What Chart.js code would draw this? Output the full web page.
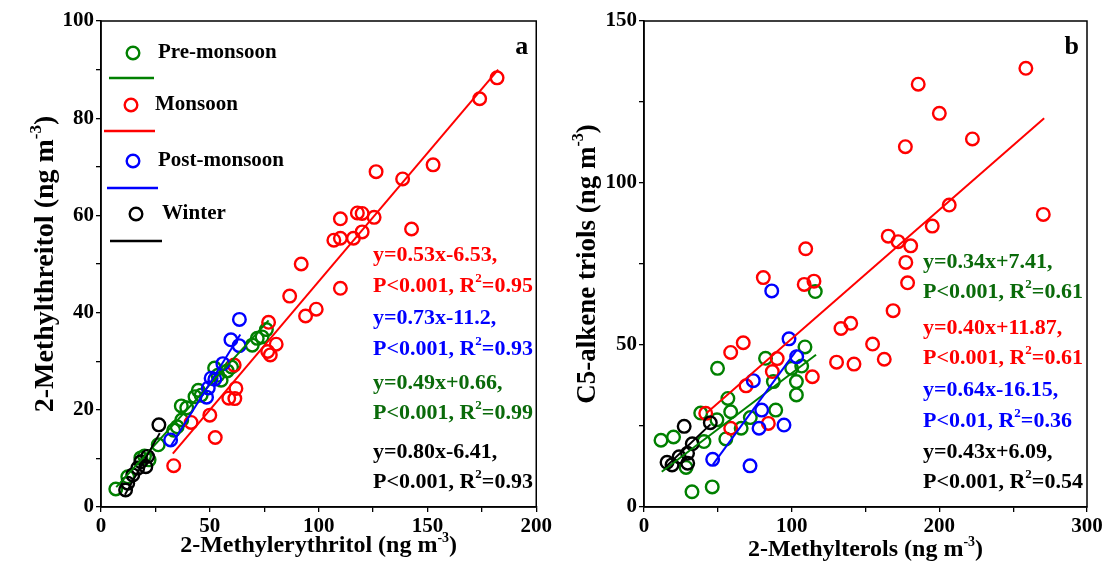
<!DOCTYPE html>
<html>
<head>
<meta charset="utf-8">
<script src="https://cdn.jsdelivr.net/npm/chart.js@4.4.0/dist/chart.umd.min.js"></script>
<style>
body{margin:0;background:#fff;}
#wrap{position:relative;width:1108px;height:588px;background:#fff;}
canvas{position:absolute;top:0;}
#chartA{left:0;}
#chartB{left:554px;}
</style>
</head>
<body>
<div id="wrap">
<canvas id="chartA" width="554" height="588"></canvas>
<canvas id="chartB" width="554" height="588"></canvas>
</div>
<script>
// ---- panel a : 2-Methylerythritol (x) vs 2-Methylthreitol (y) ----
var preA = [[6.8,3.7],[12.3,6.2],[18.3,10.1],[22.1,9.7],[20,10.5],[26.3,12.8],[33.4,15.8],[35,16.5],[36.9,20.8],[37.1,17.9],[39.4,20.4],[43.2,22.7],[44.7,24],[46,23],[52.2,28.6],[53.7,27.1],[55.2,26.1],[58,28],[60,28.8],[69.5,33.3],[71.8,34.7],[74,35],[76,36.5]];
var monA = [[33.4,8.5],[41.4,17.4],[50,18.9],[52.5,14.3],[58.7,22.4],[61.5,22.3],[62,24.4],[61.2,29.2],[76.6,32],[77.8,31.3],[77,38],[80.5,33.5],[86.7,43.4],[92,50],[94,39.3],[98.9,40.7],[107,54.9],[110,55.3],[110,59.3],[110,45],[116,55.3],[117.8,60.5],[120,60.4],[120,56.6],[125.5,59.6],[126.4,69],[138.6,67.5],[142.7,57.2],[152.6,70.4],[174,84],[182,88.3]];
var postA = [[32,13.8],[48.5,22.6],[49.3,24.5],[50.6,26.5],[52.3,26.3],[56,29.5],[59.7,34.4],[63.5,33.2],[63.6,38.6]];
var winA = [[11.3,3.5],[12.3,4.9],[14.6,6.6],[16.9,8],[18.3,9.3],[20.6,8.3],[21.4,10.4],[26.6,16.9]];
var fitPreA = [[7,4.1],[77,38.4]];
var fitMonA = [[33,11],[182.5,90]];
var fitPostA = [[32,12.5],[64,35.5]];
var fitWinA = [[11,2.5],[27,15.2]];

// ---- panel b : 2-Methylterols (x) vs C5-alkene triols (y) ----
var preB = [[11.5,20.6],[20,21.6],[28.5,12.2],[32.5,4.7],[46.2,6.2],[38.4,29],[40.6,20.2],[49.4,26.9],[49.8,42.8],[55.4,21],[56.8,33.5],[58.7,29.4],[65.8,24.3],[72,27.6],[82.3,45.9],[87.6,38.7],[89.2,29.9],[100,42.8],[103.2,38.7],[103.2,34.6],[106.8,43.5],[109,49.4],[116,66.5]];
var monB = [[41.8,28.9],[58.7,24.3],[58.7,47.7],[67.2,50.7],[69.1,37.4],[80.8,70.8],[84.2,25.8],[86.9,41.8],[90.2,45.8],[108.5,68.7],[109.5,79.7],[114,40.2],[115.1,69.7],[130.4,44.7],[133.4,55.1],[140,56.7],[142.2,44.1],[154.8,50.3],[162.7,45.6],[165.4,83.6],[168.7,60.6],[172.1,81.9],[177,111.2],[177.3,75.5],[178.5,69.2],[180.6,80.6],[185.7,130.5],[195.2,86.7],[200,121.5],[206.7,93.2],[222.4,113.6],[258.6,135.4],[270.4,90.3]];
var postB = [[46.5,14.7],[71.8,12.7],[74,39],[77.9,24.3],[79.7,29.9],[86.5,66.7],[94.8,25.3],[98.2,51.9],[103.4,46.4]];
var winB = [[15.6,13.8],[19,13],[23.8,15.5],[29.5,16.6],[29.6,13.5],[32.7,19.5],[27.2,24.9],[44.9,26]];
var fitPreB = [[12,10.9],[116.5,47]];
var fitMonB = [[42.4,29],[271,120]];
var fitPostB = [[46.5,13],[103.5,48.5]];
var fitWinB = [[15,12.5],[45,25.5]];

// regression labels
var eqA = ['y=0.53x-6.53,', 'y=0.73x-11.2,', 'y=0.49x+0.66,', 'y=0.80x-6.41,'];
var pA = ['P<0.001', 'P<0.001', 'P<0.001', 'P<0.001'];
var r2A = ['0.95', '0.93', '0.99', '0.93'];
var eqB = ['y=0.34x+7.41,', 'y=0.40x+11.87,', 'y=0.64x-16.15,', 'y=0.43x+6.09,'];
var pB = ['P<0.001', 'P<0.001', 'P<0.01', 'P<0.001'];
var r2B = ['0.61', '0.61', '0.36', '0.54'];

var seasons = ['Pre-monsoon', 'Monsoon', 'Post-monsoon', 'Winter'];

var serif = "'Liberation Serif', 'Times New Roman', serif";
var C = {pre:'#008000', mon:'#ff0000', post:'#0000ff', win:'#000000'};
var textGreen = '#0a6a0a';

function pts(arr){ return arr.map(function(p){ return {x:p[0], y:p[1]}; }); }

function dots(label, arr, color, order){
  return {label:label, data:pts(arr), borderColor:color, backgroundColor:'rgba(0,0,0,0)',
    pointRadius:6.3, pointHoverRadius:6.3, pointBorderWidth:2.4, showLine:false, order:order};
}
function fit(arr, color, order){
  return {data:pts(arr), borderColor:color, borderWidth:2, pointRadius:0, showLine:true, fill:false, order:order};
}

function richWidth(ctx, parts, size){
  var w = 0;
  parts.forEach(function(p){
    ctx.font = 'bold ' + (p[1] ? Math.round(size*0.6) : size) + 'px ' + serif;
    w += ctx.measureText(p[0]).width;
  });
  return w;
}
function drawRich(ctx, parts, x, y, size, color){
  var cx = x;
  ctx.fillStyle = color; ctx.textBaseline = 'middle'; ctx.textAlign = 'left';
  parts.forEach(function(p){
    var s = p[1] ? Math.round(size*0.6) : size;
    ctx.font = 'bold ' + s + 'px ' + serif;
    ctx.fillText(p[0], cx, p[1] ? y - size*0.33 : y);
    cx += ctx.measureText(p[0]).width;
  });
}

function decor(o){
  return {id:'decor', afterDraw:function(chart){
    var ctx = chart.ctx, a = chart.chartArea;
    ctx.save();
    ctx.strokeStyle = '#000'; ctx.lineWidth = 1.5;
    ctx.strokeRect(a.left, a.top, a.right - a.left, a.bottom - a.top);

    ctx.font = 'bold 26px ' + serif; ctx.fillStyle = '#000';
    ctx.textAlign = 'right'; ctx.textBaseline = 'middle';
    ctx.fillText(o.letter, a.right - 8, a.top + 26);

    var w = richWidth(ctx, o.xTitle, 24);
    drawRich(ctx, o.xTitle, (a.left + a.right)/2 - w/2, o.xTitleY, 24, '#000');
    ctx.save();
    ctx.translate(o.yTitleX, (a.top + a.bottom)/2);
    ctx.rotate(-Math.PI/2);
    w = richWidth(ctx, o.yTitle, o.yTitleSize);
    drawRich(ctx, o.yTitle, -w/2, 0, o.yTitleSize, '#000');
    ctx.restore();

    // regression text
    o.notes.forEach(function(n){
      drawRich(ctx, [[n.eq, false]], o.noteX, n.y1, 22, n.color);
      drawRich(ctx, [[n.p + ', R', false], ['2', true], ['=' + n.r2, false]], o.noteX, n.y2, 22, n.color);
    });

    // legend
    if (o.legend) {
      o.legend.forEach(function(l){
        ctx.beginPath();
        ctx.arc(l.cx, l.cy, 6.3, 0, Math.PI*2);
        ctx.strokeStyle = l.color; ctx.lineWidth = 2.4; ctx.stroke();
        ctx.font = 'bold 21px ' + serif; ctx.fillStyle = '#000';
        ctx.textAlign = 'left'; ctx.textBaseline = 'middle';
        ctx.fillText(l.label, l.tx, l.cy);
        ctx.beginPath();
        ctx.moveTo(l.x1, l.ly); ctx.lineTo(l.x2, l.ly);
        ctx.lineWidth = 2.3; ctx.stroke();
      });
    }
    ctx.restore();
  }};
}

function axis(min, max, step, major, fitFn){
  return {type:'linear', min:min, max:max, afterFit:fitFn,
    ticks:{stepSize:step, autoSkip:false, maxRotation:0, padding:2, color:'#000',
      font:{family:serif, weight:'bold', size:21},
      callback:function(v){ return v % major === 0 ? v : ''; }},
    grid:{drawOnChartArea:false, tickLength:5, color:'#000', lineWidth:1.3},
    border:{color:'#000', width:1.5}};
}

function makeChart(id, sets, xs, ys, padRight, o){
  return new Chart(document.getElementById(id), {
    type:'scatter',
    data:{datasets:sets},
    options:{
      responsive:false, animation:false,
      layout:{padding:{top:21, right:padRight, left:0, bottom:0}},
      plugins:{legend:{display:false}, tooltip:{enabled:false}},
      scales:{x:xs, y:ys}
    },
    plugins:[decor(o)]
  });
}

var cols = [C.pre, C.mon, C.post, C.win];
var sup3 = function(name){ return [[name + ' (ng m', false], ['-3', true], [')', false]]; };

makeChart('chartA', [
  dots(seasons[0], preA, C.pre, 8), dots(seasons[1], monA, C.mon, 7),
  dots(seasons[2], postA, C.post, 6), dots(seasons[3], winA, C.win, 5),
  fit(fitPreA, C.pre, 4), fit(fitMonA, C.mon, 3), fit(fitPostA, C.post, 2), fit(fitWinA, C.win, 1)
],
  axis(0, 200, 25, 50, function(s){ s.height = 81; }),
  axis(0, 100, 10, 20, function(s){ s.width = 101; }),
  10,
  {letter:'a', xTitle:sup3('2-Methylerythritol'), yTitle:sup3('2-Methylthreitol'),
   xTitleY:546, yTitleX:46, yTitleSize:28, noteX:373,
   notes:[
     {eq:eqA[0], p:pA[0], r2:r2A[0], color:C.mon, y1:255, y2:286},
     {eq:eqA[1], p:pA[1], r2:r2A[1], color:C.post, y1:318, y2:349},
     {eq:eqA[2], p:pA[2], r2:r2A[2], color:textGreen, y1:383, y2:413},
     {eq:eqA[3], p:pA[3], r2:r2A[3], color:C.win, y1:452, y2:482}
   ],
   legend:[
     {label:seasons[0], color:cols[0], cx:133, cy:53, tx:158, ly:78, x1:109, x2:154},
     {label:seasons[1], color:cols[1], cx:131, cy:105, tx:155, ly:131, x1:104, x2:155},
     {label:seasons[2], color:cols[2], cx:133, cy:161, tx:158, ly:188, x1:107, x2:158},
     {label:seasons[3], color:cols[3], cx:136, cy:214, tx:162, ly:241, x1:110, x2:162}
   ]});

makeChart('chartB', [
  dots(seasons[0], preB, C.pre, 8), dots(seasons[1], monB, C.mon, 7),
  dots(seasons[2], postB, C.post, 6), dots(seasons[3], winB, C.win, 5),
  fit(fitPreB, C.pre, 4), fit(fitMonB, C.mon, 3), fit(fitPostB, C.post, 2), fit(fitWinB, C.win, 1)
],
  axis(0, 300, 50, 100, function(s){ s.height = 81; }),
  axis(0, 150, 25, 50, function(s){ s.width = 90; }),
  21,
  {letter:'b', xTitle:sup3('2-Methylterols'), yTitle:sup3('C5-alkene triols'),
   xTitleY:550, yTitleX:34, yTitleSize:27, noteX:369,
   notes:[
     {eq:eqB[0], p:pB[0], r2:r2B[0], color:textGreen, y1:262, y2:292},
     {eq:eqB[1], p:pB[1], r2:r2B[1], color:C.mon, y1:328, y2:358},
     {eq:eqB[2], p:pB[2], r2:r2B[2], color:C.post, y1:390, y2:421},
     {eq:eqB[3], p:pB[3], r2:r2B[3], color:C.win, y1:452, y2:482}
   ]});
</script>
</body>
</html>
